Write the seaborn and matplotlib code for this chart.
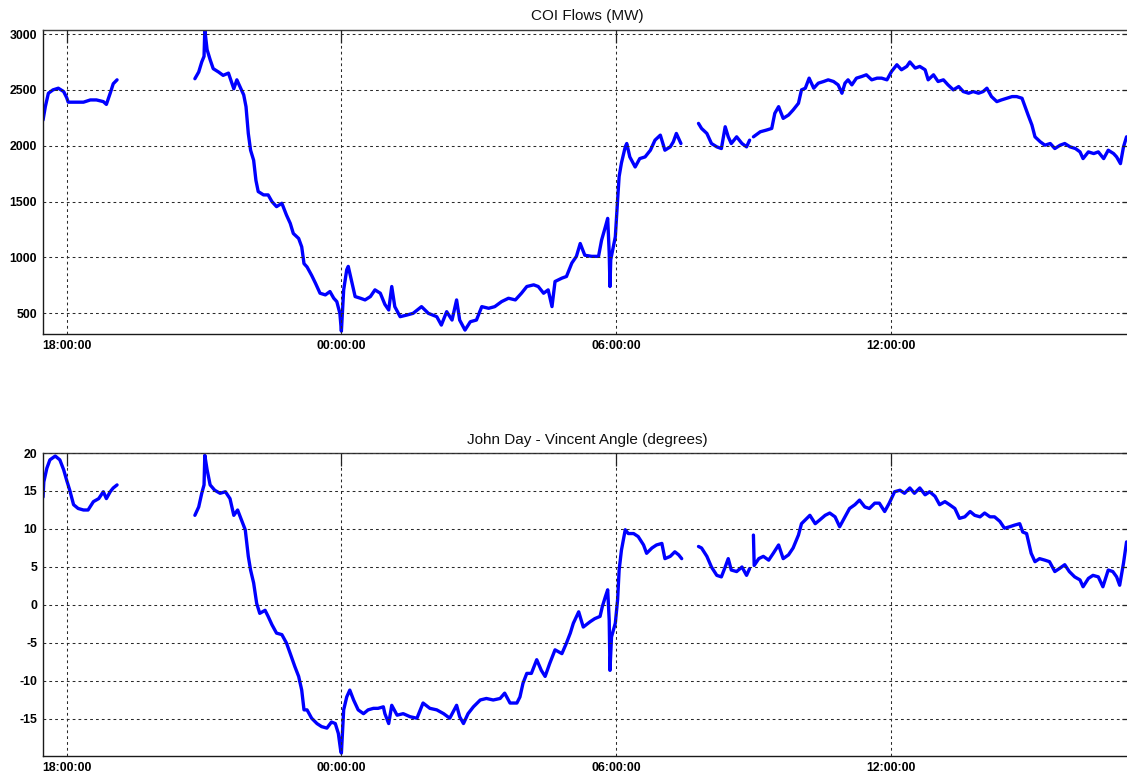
import numpy as np
import pandas as pd
import matplotlib
matplotlib.use("Agg")
import matplotlib.pyplot as plt
import matplotlib.dates as mdates
import seaborn as sns

NAN = float("nan")

# COI flow samples (clock time, MW); NaN rows mark telemetry gaps
coi_time = [
    "17:29", "17:32", "17:36", "17:42", "17:49", "17:56", "18:00", "18:02", "18:13", "18:22",
    "18:31", "18:39", "18:48", "18:52", "18:57", "19:01", "19:06",
    "20:00",
    "20:48", "20:53", "20:57", "21:00", "21:01", "21:04", "21:08", "21:12", "21:19", "21:25",
    "21:32", "21:39", "21:43", "21:47", "21:52", "21:55", "21:58", "22:01", "22:05", "22:08",
    "22:11", "22:18", "22:24", "22:29", "22:35", "22:42", "22:48", "22:53", "22:57", "23:04",
    "23:08", "23:11", "23:15", "23:21", "23:26", "23:32", "23:39", "23:45", "23:50", "23:54",
    "23:58", "00:00", "00:03", "00:07", "00:09", "00:14", "00:18", "00:25", "00:31", "00:38",
    "00:44", "00:51", "00:57", "01:02", "01:06", "01:10", "01:17", "01:26", "01:34", "01:45",
    "01:54", "02:05", "02:11", "02:18", "02:25", "02:31", "02:35", "02:42", "02:49", "02:57",
    "03:04", "03:13", "03:21", "03:30", "03:39", "03:48", "03:56", "04:03", "04:12", "04:18",
    "04:25", "04:31", "04:36", "04:40", "04:49", "04:55", "05:02", "05:08", "05:13", "05:19",
    "05:28", "05:37", "05:41", "05:46", "05:49", "05:51", "05:52", "05:53", "05:59", "06:02",
    "06:04", "06:07", "06:12", "06:14", "06:18", "06:25", "06:31", "06:38", "06:45", "06:51",
    "06:58", "07:04", "07:11", "07:15", "07:19", "07:25",
    "07:36",
    "07:48", "07:52", "07:59", "08:05", "08:12", "08:18", "08:23", "08:27", "08:31", "08:38",
    "08:45", "08:51", "08:55",
    "08:57",
    "09:00", "09:09", "09:17", "09:24", "09:28", "09:33", "09:39", "09:46", "09:52", "09:59",
    "10:03", "10:08", "10:13", "10:19", "10:25", "10:32", "10:38", "10:45", "10:51", "10:56",
    "11:00", "11:04", "11:09", "11:15", "11:22", "11:28", "11:35", "11:42", "11:48", "11:55",
    "12:01", "12:08", "12:14", "12:21", "12:25", "12:32", "12:38", "12:45", "12:49", "12:56",
    "13:02", "13:09", "13:15", "13:22", "13:29", "13:35", "13:42", "13:48", "13:55", "14:01",
    "14:06", "14:12", "14:19", "14:25", "14:32", "14:39", "14:45", "14:52", "14:56", "15:00",
    "15:05", "15:09", "15:16", "15:22", "15:29", "15:35", "15:42", "15:48", "15:55", "16:02",
    "16:08", "16:12", "16:19", "16:26", "16:32", "16:39", "16:45", "16:52", "16:56", "17:01",
    "17:05", "17:09",
]
coi_mw = [
    2230, 2350, 2470, 2500, 2515, 2485, 2430, 2390, 2390, 2390,
    2410, 2410, 2395, 2370, 2470, 2555, 2590,
    NAN,
    2600, 2660, 2750, 2800, 3040, 2860, 2770, 2690, 2660, 2630,
    2650, 2510, 2590, 2530, 2455, 2350, 2110, 1960, 1870, 1690,
    1590, 1560, 1560, 1500, 1455, 1485, 1380, 1305, 1215, 1170,
    1095, 945, 915, 840, 770, 680, 665, 695, 635, 605,
    500, 340, 710, 890, 920, 770, 650, 635, 620, 650,
    710, 680, 580, 530, 740, 560, 470, 485, 500, 560,
    500, 470, 395, 515, 440, 620, 440, 350, 425, 440,
    560, 545, 560, 605, 635, 620, 680, 740, 755, 740,
    680, 710, 560, 785, 815, 830, 950, 1010, 1125, 1020,
    1010, 1010, 1155, 1275, 1350, 1040, 740, 980, 1185, 1515,
    1725, 1845, 1990, 2020, 1900, 1810, 1885, 1900, 1960, 2050,
    2095, 1960, 1990, 2035, 2110, 2020,
    NAN,
    2200, 2155, 2110, 2020, 1990, 1975, 2170, 2080, 2020, 2080,
    2020, 1990, 2050,
    NAN,
    2080, 2125, 2140, 2155, 2290, 2350, 2245, 2275, 2320, 2380,
    2500, 2515, 2605, 2515, 2560, 2575, 2590, 2575, 2545, 2470,
    2560, 2590, 2545, 2605, 2620, 2635, 2590, 2605, 2605, 2590,
    2665, 2725, 2680, 2710, 2750, 2695, 2710, 2680, 2590, 2635,
    2575, 2590, 2545, 2500, 2530, 2485, 2470, 2485, 2470, 2485,
    2515, 2440, 2395, 2410, 2425, 2440, 2440, 2425, 2350, 2275,
    2185, 2080, 2035, 2005, 2020, 1975, 2005, 2020, 1990, 1975,
    1945, 1885, 1945, 1930, 1945, 1885, 1960, 1930, 1900, 1840,
    1990, 2080,
]

# John Day - Vincent phase angle samples (clock time, degrees)
angle_time = [
    "17:29", "17:30", "17:34", "17:38", "17:45", "17:51", "17:56", "18:00", "18:04", "18:09",
    "18:15", "18:22", "18:28", "18:35", "18:42", "18:48", "18:52", "18:57", "19:01", "19:06",
    "20:00",
    "20:48", "20:53", "20:57", "21:00", "21:01", "21:04", "21:08", "21:14", "21:21", "21:28",
    "21:34", "21:39", "21:44", "21:49", "21:54", "21:58", "22:01", "22:05", "22:09", "22:13",
    "22:20", "22:24", "22:29", "22:35", "22:42", "22:48", "22:53", "22:59", "23:04", "23:08",
    "23:11", "23:15", "23:21", "23:28", "23:34", "23:41", "23:47", "23:52", "23:56", "23:59",
    "00:00", "00:03", "00:07", "00:11", "00:16", "00:22", "00:29", "00:35", "00:42", "00:48",
    "00:55", "00:57", "01:02", "01:06", "01:13", "01:21", "01:30", "01:39", "01:47", "01:56",
    "02:05", "02:14", "02:22", "02:31", "02:35", "02:40", "02:46", "02:53", "03:02", "03:10",
    "03:19", "03:28", "03:34", "03:41", "03:50", "03:54", "03:58", "04:03", "04:09", "04:16",
    "04:22", "04:27", "04:33", "04:40", "04:49", "04:55", "05:00", "05:04", "05:11", "05:17",
    "05:26", "05:32", "05:39", "05:42", "05:46", "05:49", "05:51", "05:52", "05:54", "05:59",
    "06:02", "06:04", "06:07", "06:12", "06:16", "06:23", "06:29", "06:36", "06:40", "06:47",
    "06:53", "07:00", "07:04", "07:11", "07:17", "07:22", "07:26",
    "07:36",
    "07:48", "07:52", "07:59", "08:05", "08:12", "08:18", "08:23", "08:27", "08:31", "08:38",
    "08:45", "08:51", "08:55",
    "08:57",
    "09:00", "09:01", "09:07", "09:13", "09:20", "09:26", "09:33", "09:39", "09:46", "09:52",
    "09:59", "10:03", "10:10", "10:14", "10:21", "10:27", "10:34", "10:40", "10:47", "10:53",
    "11:00", "11:06", "11:13", "11:19", "11:26", "11:32", "11:39", "11:45", "11:52", "11:58",
    "12:05", "12:12", "12:18", "12:25", "12:31", "12:38", "12:45", "12:51", "12:58", "13:04",
    "13:11", "13:17", "13:24", "13:30", "13:37", "13:44", "13:50", "13:57", "14:03", "14:10",
    "14:16", "14:23", "14:29", "14:36", "14:42", "14:49", "14:53", "14:58", "15:01", "15:04",
    "15:09", "15:15", "15:22", "15:28", "15:35", "15:41", "15:48", "15:54", "16:01", "16:08",
    "16:12", "16:19", "16:25", "16:32", "16:38", "16:45", "16:51", "16:56", "17:00", "17:05",
    "17:09",
]
angle_deg = [
    14.2, 16.2, 18.0, 19.1, 19.6, 19.1, 17.8, 16.4, 15.1, 13.2,
    12.7, 12.5, 12.5, 13.6, 14.0, 14.9, 14.0, 14.9, 15.4, 15.8,
    NAN,
    11.8, 12.9, 14.7, 15.8, 19.7, 17.8, 15.8, 15.1, 14.7, 14.9,
    14.0, 11.8, 12.5, 11.2, 9.9, 6.4, 4.6, 2.9, 0.2, -1.1,
    -0.7, -1.5, -2.6, -3.7, -3.9, -5.0, -6.4, -8.1, -9.4, -11.2,
    -13.8, -13.8, -14.9, -15.6, -16.0, -16.2, -15.4, -15.6, -16.9, -19.1,
    -19.5, -13.8, -12.1, -11.2, -12.5, -13.8, -14.3, -13.8, -13.6, -13.6,
    -13.4, -14.3, -15.6, -13.2, -14.5, -14.3, -14.7, -14.9, -12.9, -13.6,
    -13.8, -14.3, -14.9, -13.2, -14.7, -15.6, -14.3, -13.4, -12.5, -12.3,
    -12.5, -12.3, -11.6, -12.9, -12.9, -12.1, -10.3, -9.0, -9.0, -7.2,
    -8.6, -9.4, -7.7, -5.9, -6.4, -5.0, -3.7, -2.4, -0.9, -2.9,
    -2.2, -1.8, -1.5, -0.2, 1.1, 2.0, -2.0, -8.6, -4.2, -2.4,
    0.7, 4.6, 7.2, 9.9, 9.4, 9.4, 9.0, 7.9, 6.8, 7.5,
    7.9, 8.1, 6.1, 6.4, 7.0, 6.6, 6.1,
    NAN,
    7.7, 7.5, 6.4, 5.0, 3.9, 3.7, 5.0, 6.1, 4.6, 4.4,
    5.0, 3.9, 4.8,
    NAN,
    9.2, 5.2, 6.1, 6.4, 5.9, 6.8, 7.9, 6.1, 6.6, 7.5,
    9.2, 10.7, 11.4, 11.8, 10.7, 11.2, 11.8, 12.1, 11.6, 10.3,
    11.6, 12.7, 13.2, 13.8, 12.9, 12.7, 13.4, 13.4, 12.3, 13.4,
    14.9, 15.1, 14.7, 15.4, 14.7, 15.4, 14.5, 14.9, 14.3, 13.2,
    13.6, 13.2, 12.7, 11.4, 11.6, 12.3, 11.8, 11.6, 12.1, 11.6,
    11.6, 11.0, 10.1, 10.3, 10.5, 10.7, 9.6, 9.4, 8.1, 6.8,
    5.7, 6.1, 5.9, 5.7, 4.4, 4.8, 5.3, 4.4, 3.7, 3.3,
    2.4, 3.5, 3.9, 3.7, 2.4, 4.6, 4.4, 3.7, 2.6, 5.5,
    8.3,
]

coi_ticks = [500, 1000, 1500, 2000, 2500, 3000]
angle_ticks = [-15, -10, -5, 0, 5, 10, 15, 20]
time_ticks = ["18:00", "00:00", "06:00", "12:00"]
time_tick_labels = ["18:00:00", "00:00:00", "06:00:00", "12:00:00"]

START_DAY = pd.Timestamp("2009-06-01")


def clock_to_stamps(times):
    """Turn HH:MM strings into timestamps, rolling over midnight."""
    day = START_DAY
    prev = None
    out = []
    for t in times:
        ts = day + pd.Timedelta(hours=int(t[:2]), minutes=int(t[3:]))
        if prev is not None and ts < prev:
            day += pd.Timedelta(days=1)
            ts += pd.Timedelta(days=1)
        out.append(ts)
        prev = ts
    return out


def trace_frame(times, values):
    df = pd.DataFrame({"time": clock_to_stamps(times), "value": values})
    df["segment"] = df["value"].isna().cumsum()
    return df.dropna().reset_index(drop=True)


coi_df = trace_frame(coi_time, coi_mw)
angle_df = trace_frame(angle_time, angle_deg)

sns.set_theme(style="white")
plt.rcParams["font.family"] = ["Liberation Sans", "DejaVu Sans"]
plt.rcParams["lines.scale_dashes"] = False

W, H = 1127, 775
fig = plt.figure(figsize=(W / 100, H / 100), dpi=100)
left_px, right_px = 42.7, 1131
ax1 = fig.add_axes([left_px / W, (H - 334) / H, (right_px - left_px) / W, 304 / H])
ax2 = fig.add_axes([left_px / W, (H - 756) / H, (right_px - left_px) / W, 303 / H])

x_start = START_DAY + pd.Timedelta(hours=17, minutes=28, seconds=33)
x_end = START_DAY + pd.Timedelta(days=1, hours=17, minutes=14, seconds=50)
tick_stamps = clock_to_stamps(time_ticks)
tick_nums = mdates.date2num(tick_stamps)

panels = [
    (ax1, coi_df, "COI Flows (MW)", coi_ticks, (315, 3036), 7.5),
    (ax2, angle_df, "John Day - Vincent Angle (degrees)", angle_ticks, (-19.87, 20), 6.5),
]

for ax, df, title, yticks, ylim, pad in panels:
    sns.lineplot(data=df, x="time", y="value", units="segment", estimator=None,
                 sort=False, color="#0000ff", linewidth=2.4, ax=ax)
    ax.set_xlim(mdates.date2num(x_start), mdates.date2num(x_end))
    ax.set_ylim(*ylim)
    ax.set_xlabel("")
    ax.set_ylabel("")
    ax.set_xticks(tick_nums, labels=time_tick_labels, fontweight="bold")
    ax.set_yticks(yticks, labels=[str(v) for v in yticks], fontweight="bold")
    ax.tick_params(direction="in", width=0.9, color="#222222",
                   top=True, right=True, labelsize=8.8, pad=4, labelcolor="black")
    ax.tick_params(axis="x", length=9.4)
    ax.tick_params(axis="y", length=6.5)
    ax.grid(True, color="#2a2a2a", linestyle=(0, (2.0, 2.2)), linewidth=0.75)
    ax.set_axisbelow(False)
    for side, spine in ax.spines.items():
        spine.set_color("#3a3a3a" if side == "top" else "#1a1a1a")
        spine.set_linewidth(1.0)
        spine.set_visible(True)
    ax.set_title(title, fontsize=11, pad=pad, color="#111111")

fig.savefig("out.png", dpi=100, facecolor="white")
